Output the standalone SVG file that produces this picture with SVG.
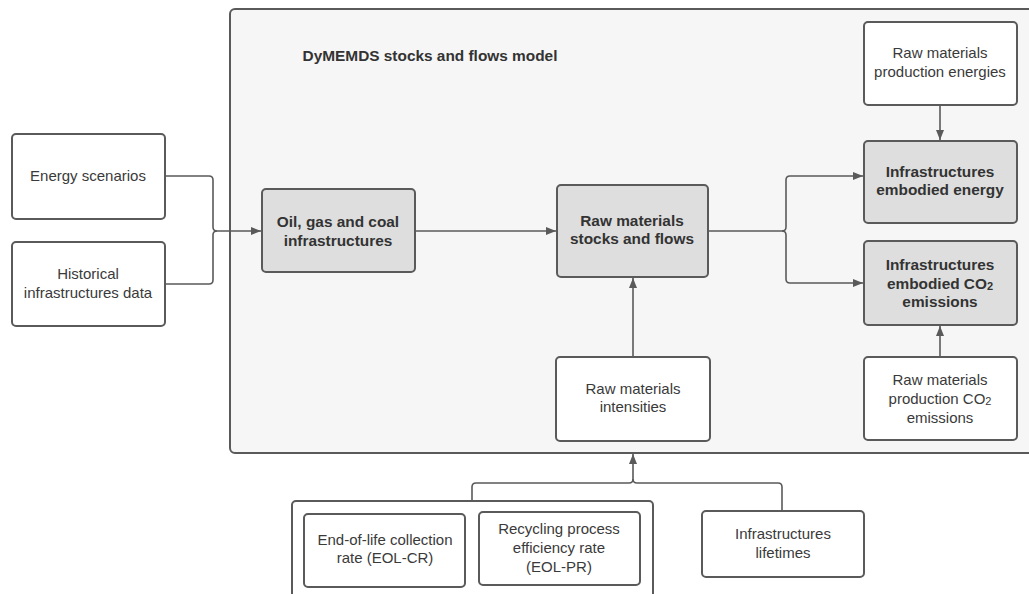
<svg xmlns="http://www.w3.org/2000/svg" width="1029" height="594" viewBox="0 0 1029 594">
<defs>
<style>
.box{fill:#ffffff;stroke:#5a5a5a;stroke-width:2}
.gbox{fill:#dedede;stroke:#5a5a5a;stroke-width:2}
.cont{fill:#f6f6f6;stroke:#5a5a5a;stroke-width:2}
.t{font-family:"Liberation Sans",Arial,sans-serif;font-size:15px;fill:#3a3a3a;text-anchor:middle;dominant-baseline:central}
.b{font-family:"Liberation Sans",Arial,sans-serif;font-size:15.4px;font-weight:bold;fill:#333;text-anchor:middle;dominant-baseline:central}
.c{fill:none;stroke:#5a5a5a;stroke-width:1.6}
</style>
<marker id="ah" viewBox="0 0 10 10" refX="10" refY="5" markerWidth="10" markerHeight="10" markerUnits="userSpaceOnUse" orient="auto">
<path d="M0,1 L10,5 L0,9 Z" fill="#5a5a5a"/>
</marker>
</defs>
<rect width="1029" height="594" fill="#ffffff"/>
<g id="model">
<rect class="cont" x="230" y="9" width="810" height="444" rx="5"/>
<text class="b" x="430" y="55">DyMEMDS stocks and flows model</text>
</g>
<g id="eol-group">
<rect class="box" x="292" y="501" width="361" height="110" rx="4"/>
</g>
<g id="connectors">
<path class="c" d="M165,176 H209 Q213,176 213,180 V227 Q213,231 217,231 H261" marker-end="url(#ah)"/>
<path class="c" d="M165,284 H209 Q213,284 213,280 V235 Q213,231 217,231"/>
<path class="c" d="M415,231 H556" marker-end="url(#ah)"/>
<path class="c" d="M708,231 H782 Q786,231 786,227 V180 Q786,176 790,176 H863" marker-end="url(#ah)"/>
<path class="c" d="M782,231 Q786,231 786,235 V279 Q786,283 790,283 H863" marker-end="url(#ah)"/>
<path class="c" d="M940,105 V140" marker-end="url(#ah)"/>
<path class="c" d="M940,357 V326" marker-end="url(#ah)"/>
<path class="c" d="M633,357 V278" marker-end="url(#ah)"/>
<path class="c" d="M472,501 V487 Q472,483 476,483 H629 Q633,483 633,479 V454" marker-end="url(#ah)"/>
<path class="c" d="M633,479 Q633,483 637,483 H778 Q782,483 782,487 V511"/>
</g>
<g id="energy-scenarios">
<rect class="box" x="12" y="134" width="153" height="85" rx="4"/>
<text class="t" x="88" y="175">Energy scenarios</text>
</g>
<g id="historical">
<rect class="box" x="12" y="242" width="153" height="84" rx="4"/>
<text class="t" x="88" y="273">Historical</text>
<text class="t" x="88" y="292">infrastructures data</text>
</g>
<g id="oil-gas-coal">
<rect class="gbox" x="262" y="189" width="153" height="83" rx="4"/>
<text class="b" x="338" y="221">Oil, gas and coal</text>
<text class="b" x="338" y="240">infrastructures</text>
</g>
<g id="raw-stocks">
<rect class="gbox" x="557" y="185" width="151" height="92" rx="4"/>
<text class="b" x="632" y="220">Raw materials</text>
<text class="b" x="632" y="238">stocks and flows</text>
</g>
<g id="prod-energies">
<rect class="box" x="864" y="22" width="153" height="83" rx="4"/>
<text class="t" x="940" y="52">Raw materials</text>
<text class="t" x="940" y="71">production energies</text>
</g>
<g id="embodied-energy">
<rect class="gbox" x="864" y="141" width="153" height="82" rx="4"/>
<text class="b" x="940" y="171">Infrastructures</text>
<text class="b" x="940" y="189">embodied energy</text>
</g>
<g id="embodied-co2">
<rect class="gbox" x="864" y="241" width="153" height="84" rx="4"/>
<text class="b" x="940" y="264">Infrastructures</text>
<text class="b" x="940" y="283">embodied CO<tspan font-size="11" dy="3">2</tspan></text>
<text class="b" x="940" y="301">emissions</text>
</g>
<g id="prod-co2">
<rect class="box" x="864" y="357" width="153" height="83" rx="4"/>
<text class="t" x="940" y="379">Raw materials</text>
<text class="t" x="940" y="398">production CO<tspan font-size="11" dy="3">2</tspan></text>
<text class="t" x="940" y="417">emissions</text>
</g>
<g id="intensities">
<rect class="box" x="556" y="357" width="154" height="84" rx="4"/>
<text class="t" x="633" y="388">Raw materials</text>
<text class="t" x="633" y="406">intensities</text>
</g>
<g id="eol-cr">
<rect class="box" x="304" y="514" width="161" height="73" rx="4"/>
<text class="t" x="385" y="539">End-of-life collection</text>
<text class="t" x="385" y="557">rate (EOL-CR)</text>
</g>
<g id="eol-pr">
<rect class="box" x="479" y="512" width="161" height="73" rx="4"/>
<text class="t" x="559" y="528">Recycling process</text>
<text class="t" x="559" y="547">efficiency rate</text>
<text class="t" x="559" y="566">(EOL-PR)</text>
</g>
<g id="lifetimes">
<rect class="box" x="702" y="511" width="162" height="66" rx="4"/>
<text class="t" x="783" y="533">Infrastructures</text>
<text class="t" x="783" y="552">lifetimes</text>
</g>
</svg>
